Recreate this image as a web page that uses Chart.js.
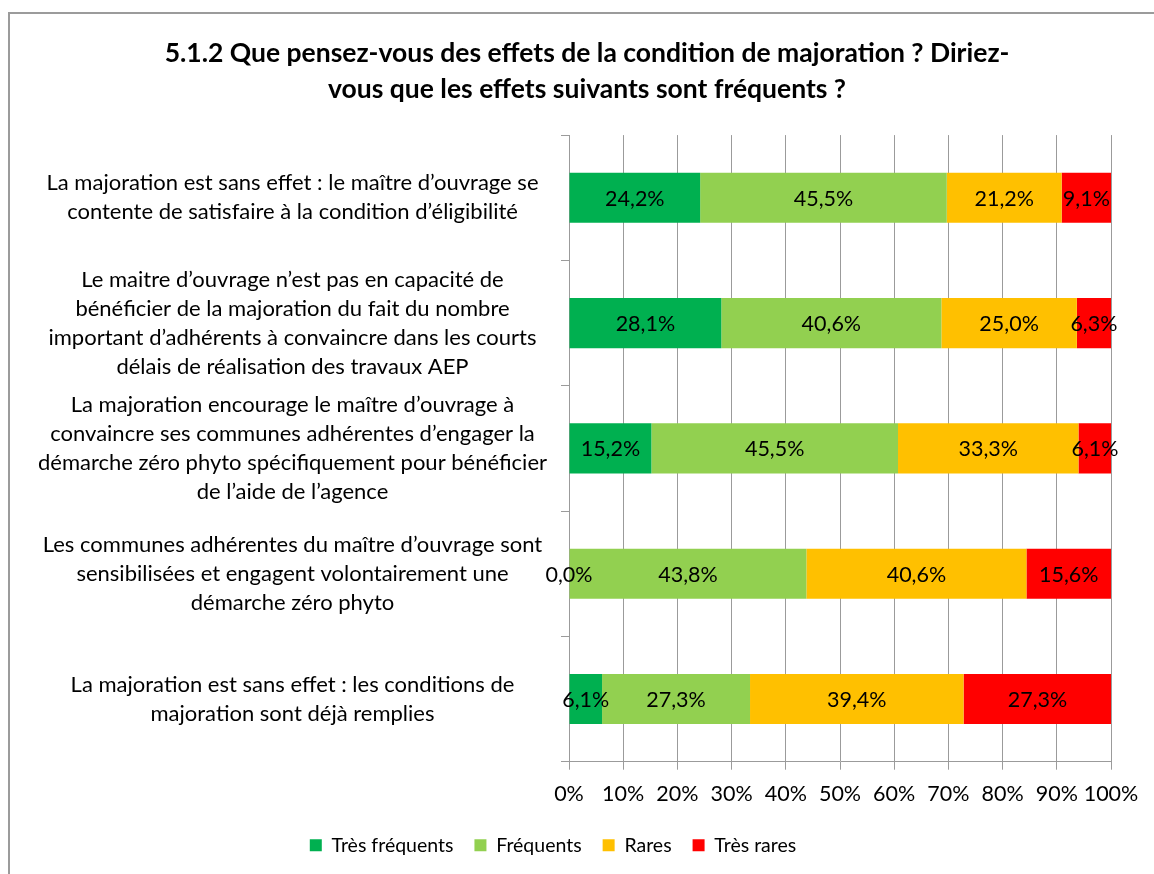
<!DOCTYPE html>
<html>
<head>
<meta charset="utf-8">
<script src="https://cdn.jsdelivr.net/npm/chart.js"></script>
<style>
html, body { margin: 0; padding: 0; background: #fff; overflow: hidden; }
#frame { position: absolute; left: 8px; top: 12px; width: 1200px; height: 1000px; border-left: 2px solid #9b9b9b; border-top: 2px solid #9b9b9b; }
#chart { position: absolute; left: 0; top: 0; }
</style>
</head>
<body>
<div id="frame"></div>
<canvas id="chart" width="1154" height="874"></canvas>
<script>
const titleLines = [
    "5.1.2 Que pensez-vous des effets de la condition de majoration ? Diriez-",
    "vous que les effets suivants sont fréquents ?"
];

const categories = [
    ["La majoration est sans effet : le maître d’ouvrage se", "contente de satisfaire à la condition d’éligibilité"],
    ["Le maitre d’ouvrage n’est pas en capacité de", "bénéficier de la majoration du fait du nombre", "important d’adhérents à convaincre dans les courts", "délais de réalisation des travaux AEP"],
    ["La majoration encourage le maître d’ouvrage à", "convaincre ses communes adhérentes d’engager la", "démarche zéro phyto spécifiquement pour bénéficier", "de l’aide de l’agence"],
    ["Les communes adhérentes du maître d’ouvrage sont", "sensibilisées et engagent volontairement une", "démarche zéro phyto"],
    ["La majoration est sans effet : les conditions de", "majoration sont déjà remplies"]
];

const seriesNames = ["Très fréquents", "Fréquents", "Rares", "Très rares"];
const seriesColors = ["#00B050", "#92D050", "#FFC000", "#FF0000"];

const tresFrequents = [24.2, 28.1, 15.2, 0.0, 6.1];
const frequents = [45.5, 40.6, 45.5, 43.8, 27.3];
const rares = [21.2, 25.0, 33.3, 40.6, 39.4];
const tresRares = [9.1, 6.3, 6.1, 15.6, 27.3];

const fontFamily = "Lato, 'Open Sans', sans-serif";
const textSize = 21.5;
const axisColor = "#9b9b9b";

function formatPercent(v) {
    return v.toFixed(1).replace(".", ",") + "%";
}

// labels in the middle of each segment
const segmentLabels = {
    id: "segmentLabels",
    afterDatasetsDraw(chart) {
        const ctx = chart.ctx;
        ctx.save();
        ctx.font = textSize + "px " + fontFamily;
        ctx.fillStyle = "#000";
        ctx.textAlign = "center";
        ctx.textBaseline = "middle";
        chart.data.datasets.forEach((ds, i) => {
            chart.getDatasetMeta(i).data.forEach((bar, j) => {
                ctx.fillText(formatPercent(ds.data[j]), (bar.x + bar.base) / 2, bar.y + 1);
            });
        });
        ctx.restore();
    }
};

// legend sits a bit left of the title centre in the original,
// and the long category labels must not be clipped at the padding
const layoutTweaks = {
    id: "layoutTweaks",
    afterLayout(chart) {
        chart.legend.left -= 34;
        chart.legend.right -= 34;
        chart.legend.top -= 3;
        chart.legend.bottom -= 3;
        chart.scales.y.left = 0;
    }
};

const seriesData = [tresFrequents, frequents, rares, tresRares];

const chartOptions = {
    type: "bar",
    data: {
        labels: categories,
        datasets: seriesNames.map((name, i) => ({
            label: name,
            data: seriesData[i],
            backgroundColor: seriesColors[i],
            borderWidth: 0,
            barPercentage: 0.4,
            categoryPercentage: 1.0,
        })),
    },
    options: {
        indexAxis: "y",
        responsive: false,
        animation: false,
        layout: {
            padding: { left: 63, right: 43, top: 0, bottom: 6 },
        },
        plugins: {
            title: {
                display: true,
                text: titleLines,
                color: "#000",
                font: { family: fontFamily, size: 26.5, weight: "bold", lineHeight: 1.36 },
                padding: { top: 35, bottom: 28 },
            },
            legend: {
                position: "bottom",
                maxHeight: 69,
                labels: {
                    boxWidth: 12,
                    boxHeight: 12,
                    padding: 21,
                    color: "#000",
                    font: { family: fontFamily, size: 19.5 },
                },
            },
            tooltip: { enabled: false },
        },
        scales: {
            x: {
                stacked: true,
                min: 0,
                max: 100,
                ticks: {
                    stepSize: 10,
                    color: "#000",
                    padding: 11,
                    maxRotation: 0,
                    autoSkip: false,
                    font: { family: fontFamily, size: textSize },
                    callback: (v) => v + "%",
                },
                grid: { color: axisColor, tickLength: 8 },
                border: { color: axisColor },
            },
            y: {
                stacked: true,
                ticks: {
                    crossAlign: "center",
                    padding: 14,
                    color: "#000",
                    font: { family: fontFamily, size: 22, lineHeight: 1.32 },
                },
                grid: { drawOnChartArea: false, offset: true, color: axisColor, tickLength: 8 },
                border: { color: axisColor },
                afterFit: (scale) => { scale.width = 506; },
            },
        },
    },
    plugins: [segmentLabels, layoutTweaks],
};

new Chart("chart", chartOptions);
</script>
</body>
</html>
